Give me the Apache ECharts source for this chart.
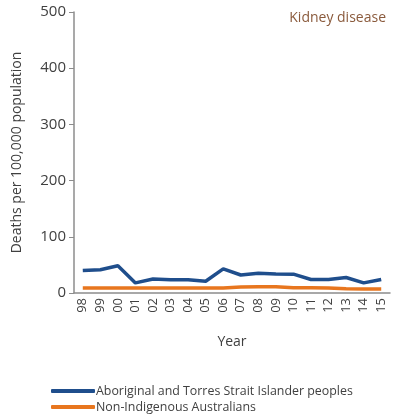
<!DOCTYPE html>
<html>
<head>
<meta charset="utf-8">
<script src="https://cdn.jsdelivr.net/npm/echarts@6/dist/echarts.min.js"></script>
<style>
    html, body { margin: 0; padding: 0; background: #fff; }
    #chart { width: 396px; height: 418px; }
</style>
</head>
<body>
<div id="chart"></div>
<script>
// values
const years = ['98', '99', '00', '01', '02', '03', '04', '05', '06', '07', '08', '09', '10', '11', '12', '13', '14', '15'];
const indigenous = [40, 41.5, 48.5, 18, 25, 23.5, 23.5, 21, 43, 32, 35, 34, 33.5, 24, 24, 27.5, 18, 24];
const nonIndigenous = [9, 9, 9, 9, 9, 9, 9, 9, 9, 10.5, 11, 11, 9.5, 9.5, 9, 7.5, 7, 7];
const yTicks = [0, 100, 200, 300, 400, 500];

const font = 'Open Sans';
const axisGrey = '#8c8c8c';

let chart = echarts.init(document.getElementById('chart'));
let option = {
    animation: false,
    textStyle: { fontFamily: font },
    title: {
        text: 'Kidney disease',
        right: 5,
        top: 6,
        textStyle: { fontFamily: font, fontSize: 14, fontWeight: 'normal', color: '#8a5a3c' }
    },
    grid: { left: 74, right: 6, top: 12, bottom: 125 },
    xAxis: {
        type: 'category',
        data: years,
        name: 'Year',
        nameLocation: 'middle',
        nameGap: 42,
        nameTextStyle: { fontSize: 14, color: '#404040' },
        axisLine: { lineStyle: { color: axisGrey, width: 1.5 } },
        axisTick: { alignWithLabel: false, length: 5, lineStyle: { color: axisGrey } },
        axisLabel: { rotate: 90, fontSize: 13, color: '#404040', margin: 5 }
    },
    yAxis: {
        type: 'value',
        min: yTicks[0],
        max: yTicks[yTicks.length - 1],
        interval: 100,
        name: 'Deaths per 100,000 population',
        nameLocation: 'middle',
        nameGap: 50,
        nameTextStyle: { fontSize: 14, color: '#404040' },
        splitLine: { show: false },
        axisLine: { show: true, lineStyle: { color: axisGrey, width: 1.5 } },
        axisTick: { show: true, length: 5, lineStyle: { color: axisGrey } },
        axisLabel: { fontSize: 15, color: '#404040', margin: 8 }
    },
    legend: {
        orient: 'vertical',
        left: 46,
        bottom: 0,
        itemGap: 4,
        itemWidth: 44,
        itemHeight: 4,
        icon: 'roundRect',
        textStyle: { fontSize: 12.4, color: '#404040', padding: [0, 0, 0, -4] },
        data: ['Aboriginal and Torres Strait Islander peoples', 'Non-Indigenous Australians']
    },
    series: [
        {
            name: 'Aboriginal and Torres Strait Islander peoples',
            type: 'line',
            data: indigenous,
            symbol: 'none',
            color: '#1f4e8c',
            lineStyle: { width: 3.5, color: '#1f4e8c' }
        },
        {
            name: 'Non-Indigenous Australians',
            type: 'line',
            data: nonIndigenous,
            symbol: 'none',
            color: '#e8761e',
            lineStyle: { width: 3.5, color: '#e8761e' }
        }
    ]
};
chart.setOption(option);
</script>
</body>
</html>
